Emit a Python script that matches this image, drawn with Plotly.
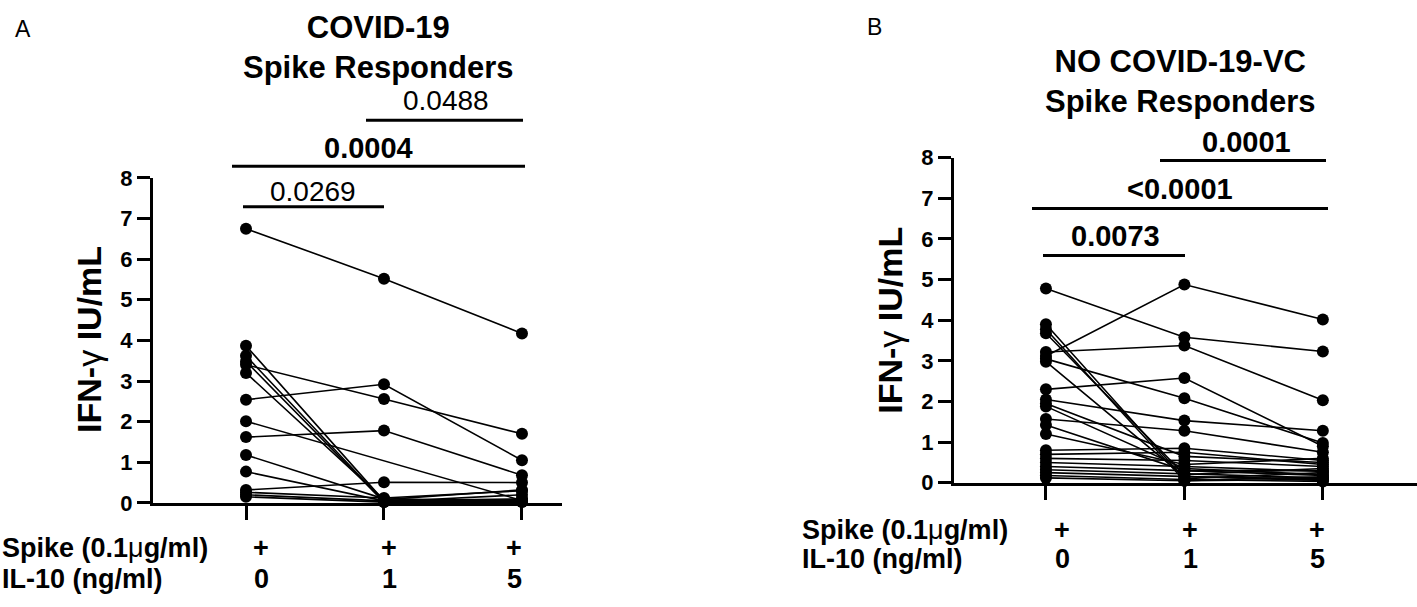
import plotly.graph_objects as go

W, H = 1417, 607


def px(x):
    return x / W


def py(y):
    return 1 - y / H


# ---------------- data ----------------
categories = [0, 1, 2]
spike_labels = ["+", "+", "+"]
il10_labels = ["0", "1", "5"]

# Panel A: COVID-19 Spike Responders (IFN-gamma IU/mL) at IL-10 0, 1, 5 ng/ml
a_il10_0 = [6.75, 3.87, 3.62, 3.48, 3.40, 3.20, 2.54, 2.01, 1.62, 1.18, 0.77, 0.32, 0.26, 0.20, 0.15]
a_il10_1 = [5.52, 0.05, 0.03, 0.02, 2.56, 0.08, 2.92, None, 1.78, 0.10, 0.05, 0.51, 0.12, 0.05, 0.02]
a_il10_5 = [4.17, 0.05, 0.20, 0.08, 1.70, 0.32, 1.05, 0.06, 0.68, 0.05, 0.03, 0.50, 0.30, 0.10, 0.02]

# Panel B: NO COVID-19-VC Spike Responders
b_il10_0 = [4.78, 3.90, 3.78, 3.68, 3.22, 3.12, 3.05, 2.98, 2.30, 2.05, 1.95, 1.88, 1.57, 1.42,
            1.20, 0.80, 0.70, 0.60, 0.50, 0.40, 0.32, 0.25, 0.18, 0.12]
b_il10_1 = [3.58, 0.10, 0.05, 0.20, 3.38, 4.88, 2.08, 0.15, 2.58, 1.53, 0.65, 0.35, 1.28, 0.30,
            0.45, 0.85, 0.75, 0.55, 0.40, 0.30, 0.22, 0.15, 0.08, 0.05]
b_il10_5 = [3.23, 0.25, 0.15, 0.35, 2.03, 4.02, 0.98, 0.10, 0.90, 1.28, 0.50, 0.20, 0.75, 0.30,
            0.60, 0.55, 0.45, 0.40, 0.28, 0.18, 0.12, 0.06, 0.03, 0.08]

a_pvals = ["0.0269", "<b>0.0004</b>", "0.0488"]
b_pvals = ["<b>0.0073</b>", "<b>&lt;0.0001</b>", "<b>0.0001</b>"]

FONT = "Liberation Sans, Arial, sans-serif"

fig = go.Figure()


def add_subjects(v0, v1, v2, xa, ya):
    for a, b, c in zip(v0, v1, v2):
        fig.add_trace(go.Scatter(
            x=categories, y=[a, b, c], mode="lines+markers",
            line=dict(color="black", width=1.6),
            marker=dict(color="black", size=12, symbol="circle"),
            connectgaps=True, cliponaxis=False, hoverinfo="skip",
            xaxis=xa, yaxis=ya, showlegend=False))


add_subjects(a_il10_0, a_il10_1, a_il10_5, "x", "y")
add_subjects(b_il10_0, b_il10_1, b_il10_5, "x2", "y2")

axis_common = dict(showline=True, linewidth=3, linecolor="black", showgrid=False,
                   zeroline=False, ticks="outside", tickwidth=3, tickcolor="black")

fig.update_layout(
    width=W, height=H,
    margin=dict(l=0, r=0, t=0, b=0),
    paper_bgcolor="white", plot_bgcolor="white",
    showlegend=False,
    font=dict(family=FONT, color="black"),
    xaxis=dict(domain=[px(153), px(562)], range=[-0.674, 2.29], anchor="y",
               tickvals=categories, ticklen=14, showticklabels=False, **axis_common),
    yaxis=dict(domain=[py(512), py(173)], range=[0, 8], anchor="x",
               tickvals=list(range(0, 9)), ticklen=13,
               tickfont=dict(family=FONT, size=22, weight=700, color="black"), **axis_common),
    xaxis2=dict(domain=[px(954), 1.0], range=[-0.664, 2.68], anchor="y2",
                tickvals=categories, ticklen=14, showticklabels=False, **axis_common),
    yaxis2=dict(domain=[py(491), py(152)], range=[0, 8], anchor="x2",
                tickvals=list(range(0, 9)), ticklen=13,
                tickfont=dict(family=FONT, size=22, weight=700, color="black"), **axis_common),
)

ann = []
shapes = []


def text(x, y, t, size, xanchor="center", angle=0, family=FONT):
    ann.append(dict(x=px(x), y=py(y), xref="paper", yref="paper", text=t, showarrow=False,
                    xanchor=xanchor, yanchor="middle", textangle=angle,
                    font=dict(family=family, size=size, color="black")))


def bar(x0, x1, y):
    shapes.append(dict(type="line", xref="paper", yref="paper", x0=px(x0), x1=px(x1),
                       y0=py(y), y1=py(y), line=dict(color="black", width=3)))


# panel letters
text(23, 18, "A", 23, family="Liberation Sans Narrow, Liberation Sans, sans-serif")
text(874, 16, "B", 23, family="Liberation Sans Narrow, Liberation Sans, sans-serif")

# titles
text(378, 37, "<b>COVID-19</b><br><b>Spike Responders</b>", 31)
text(1180, 72, "<b>NO COVID-19-VC</b><br><b>Spike Responders</b>", 31)

# y-axis titles
text(89, 342, "<b>IFN-</b>γ<b> IU/mL</b>", 34, angle=-90)
text(890, 322, "<b>IFN-</b>γ<b> IU/mL</b>", 34, angle=-90)

# significance bars panel A
text(446, 92, a_pvals[2], 28)
bar(366, 523, 113)
text(368, 142, a_pvals[1], 29)
bar(232, 525, 161)
text(313, 187, a_pvals[0], 28)
bar(243, 384, 203)

# significance bars panel B
text(1246, 136, b_pvals[2], 29)
bar(1160, 1326, 155)
text(1180, 185, b_pvals[1], 29)
bar(1032, 1328, 205)
text(1115, 234, b_pvals[0], 29)
bar(1043, 1185, 254)

# bottom condition rows
text(0, 559, "<b>Spike (0.1</b>μ<b>g/ml)</b>", 27, xanchor="left")
text(0, 591, "<b>IL-10 (ng/ml)</b>", 27, xanchor="left")
for xp, s, n in zip([261, 389, 514], spike_labels, il10_labels):
    text(xp, 559, "<b>" + s + "</b>", 27)
    text(xp, 591, "<b>" + n + "</b>", 27)

text(800, 540, "<b>Spike (0.1</b>μ<b>g/ml)</b>", 27, xanchor="left")
text(800, 571, "<b>IL-10 (ng/ml)</b>", 27, xanchor="left")
for xp, s, n in zip([1062, 1190, 1317], spike_labels, il10_labels):
    text(xp, 540, "<b>" + s + "</b>", 27)
    text(xp, 571, "<b>" + n + "</b>", 27)

fig.update_layout(annotations=ann, shapes=shapes)

post = (
    "document.documentElement.style.margin='0';"
    "document.documentElement.style.overflow='hidden';"
    "document.body.style.margin='0';"
    "document.body.style.overflow='hidden';"
    "var gd=document.getElementById('{plot_id}');"
    "gd.style.position='fixed';gd.style.top='0px';gd.style.left='0px';"
)
fig.write_html("out.html", config={"displayModeBar": False}, post_script=post)
